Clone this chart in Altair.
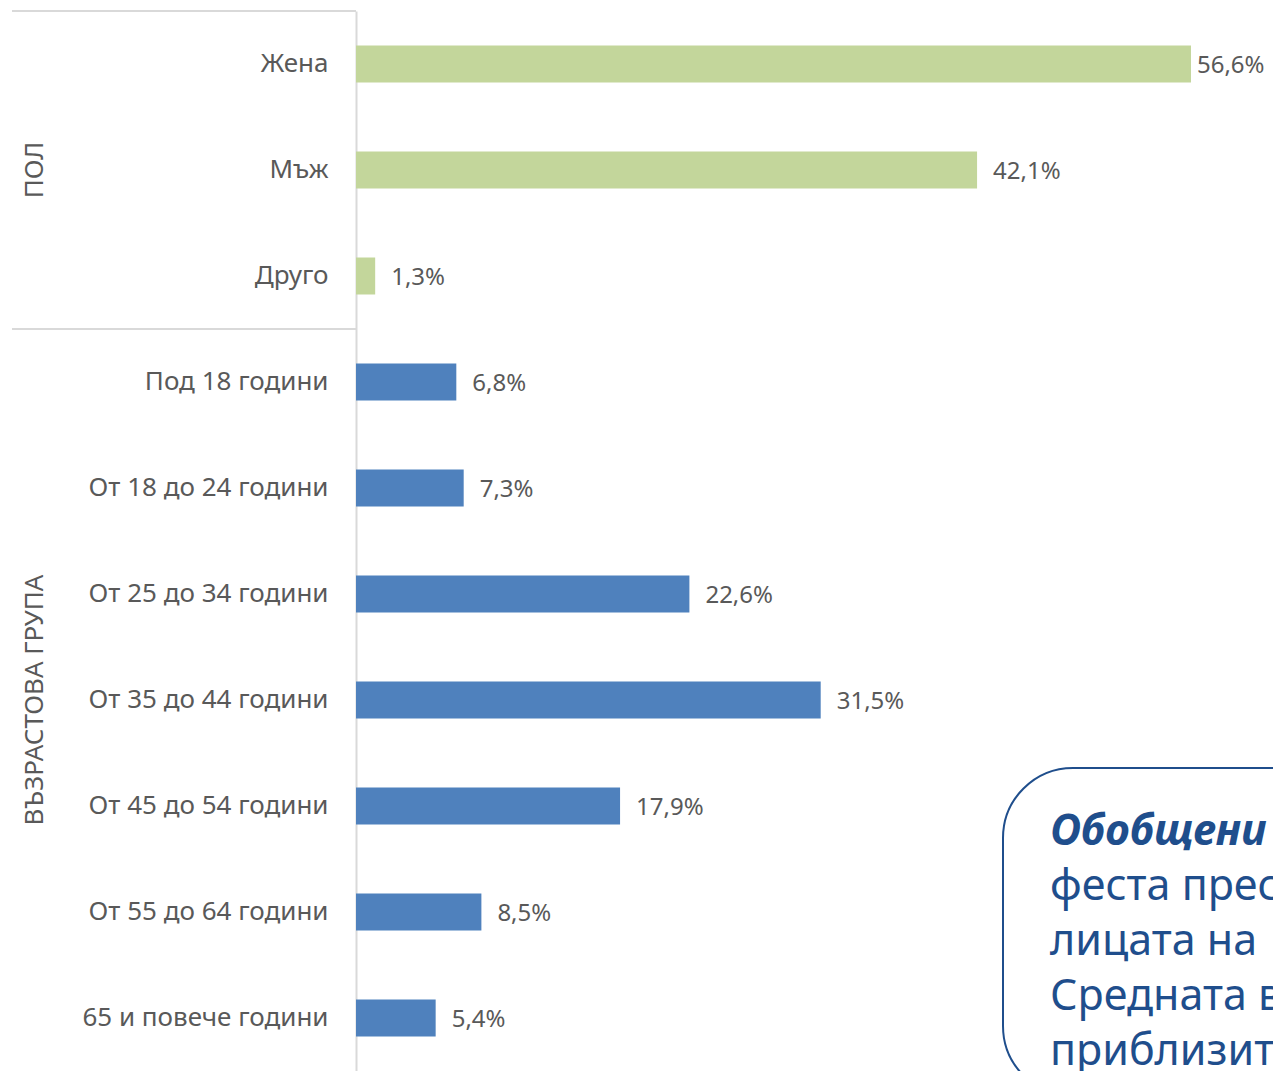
import altair as alt
import pandas as pd

gender_categories = ["Жена", "Мъж", "Друго"]
gender_values = [56.6, 42.1, 1.3]
age_categories = [
    "Под 18 години",
    "От 18 до 24 години",
    "От 25 до 34 години",
    "От 35 до 44 години",
    "От 45 до 54 години",
    "От 55 до 64 години",
    "65 и повече години",
]
age_values = [6.8, 7.3, 22.6, 31.5, 17.9, 8.5, 5.4]
group_names = ["ПОЛ", "ВЪЗРАСТОВА ГРУПА"]
group_colors = ["#c3d69b", "#4f81bd"]
callout_title = "Обобщени"
callout_lines = ["феста прес", "лицата на", "Средната в", "приблизит"]

rows = []
for c, v in zip(gender_categories, gender_values):
    rows.append({"group": group_names[0], "category": c, "value": v})
for c, v in zip(age_categories, age_values):
    rows.append({"group": group_names[1], "category": c, "value": v})
df = pd.DataFrame(rows)
df["label"] = df["value"].map(lambda v: f"{v:.1f}".replace(".", ",") + "%")

order = gender_categories + age_categories
FONT = "Noto Sans"
GRAY_TEXT = "#595959"
LINE = "#d9d9d9"
BLUE_TEXT = "#1f4e8c"

yscale = alt.Scale(domain=order, paddingInner=0, paddingOuter=0)
yaxis = alt.Axis(
    title=None, ticks=False, labelPadding=28, labelFontSize=26,
    labelColor=GRAY_TEXT, labelFont=FONT, domainColor=LINE, domainWidth=2,
    labelLimit=400, grid=False,
)
y = alt.Y("category:N", sort=order, scale=yscale, axis=yaxis)
x = alt.X("value:Q", scale=alt.Scale(domain=[0, 62.16], nice=False, zero=True), axis=None)

bars = alt.Chart(df).mark_bar(size=37).encode(
    x=x, y=y,
    color=alt.Color("group:N", scale=alt.Scale(domain=group_names, range=group_colors), legend=None),
)

labels_small = alt.Chart(df).transform_filter("datum.value < 50").mark_text(
    align="left", baseline="middle", dx=16, dy=2, fontSize=24, font=FONT, color=GRAY_TEXT
).encode(x=x, y=y, text="label:N")

labels_big = alt.Chart(df).transform_filter("datum.value >= 50").mark_text(
    align="left", baseline="middle", dx=6, dy=2, fontSize=24, font=FONT, color=GRAY_TEXT
).encode(x=x, y=y, text="label:N")

group_df = pd.DataFrame({"group": group_names, "category": ["Мъж", "От 35 до 44 години"]})
group_labels = alt.Chart(group_df).mark_text(
    angle=270, align="center", baseline="middle", fontSize=26, font=FONT, color=GRAY_TEXT
).encode(x=alt.value(-321), y=y, text="group:N")

sep_df = pd.DataFrame({"category": [gender_categories[0], age_categories[0]]})
separators = alt.Chart(sep_df).mark_rule(color=LINE, strokeWidth=2).encode(
    x=alt.value(-344), x2=alt.value(0),
    y=alt.Y("category:N", sort=order, scale=yscale, axis=yaxis, bandPosition=0),
)

box_df = pd.DataFrame({"k": [0]})
callout_box = alt.Chart(box_df).mark_rect(
    cornerRadius=70, fill="white", stroke=BLUE_TEXT, strokeWidth=2
).encode(x=alt.value(647), x2=alt.value(1150), y=alt.value(757), y2=alt.value(1085))

callout_head = alt.Chart(box_df).mark_text(
    align="left", baseline="alphabetic", fontSize=43, font=FONT, fontStyle="italic",
    fontWeight="bold", color=BLUE_TEXT, text=callout_title
).encode(x=alt.value(694), y=alt.value(834))

callout_body = alt.Chart(box_df).mark_text(
    align="left", baseline="alphabetic", fontSize=43, font=FONT, lineHeight=55,
    color=BLUE_TEXT, text=callout_lines
).encode(x=alt.value(694), y=alt.value(889))

chart = alt.layer(
    separators, bars, labels_small, labels_big, group_labels,
    callout_box, callout_head, callout_body,
).properties(
    width=917, height=1060,
    padding={"left": 356, "top": 11, "right": 0, "bottom": 0},
    autosize=alt.AutoSizeParams(type="none"),
    background="white",
).configure_view(stroke=None)

chart.save("out.html", embed_options={"renderer": "svg", "actions": False})
